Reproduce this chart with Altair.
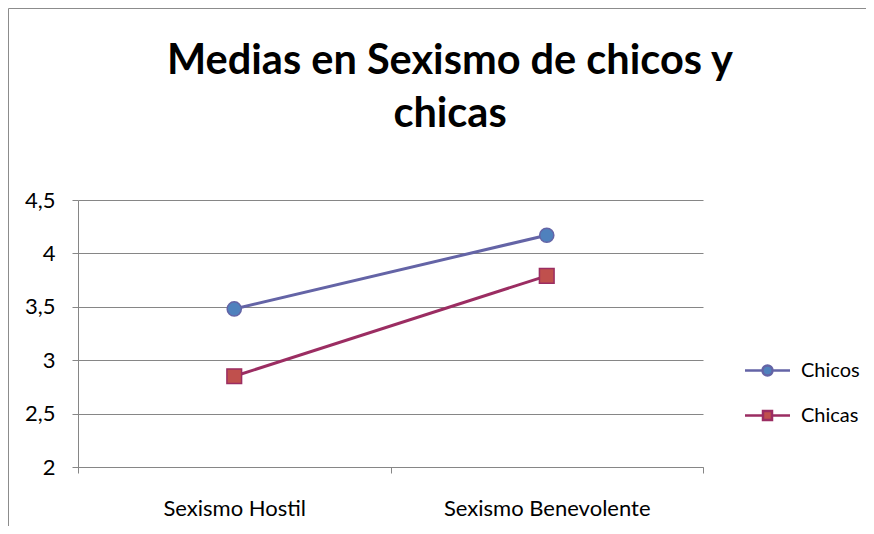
import altair as alt
import pandas as pd

# ---- data ----
categorias = ["Sexismo Hostil", "Sexismo Benevolente"]
series = ["Chicos", "Chicas"]
chicos = [3.48, 4.17]
chicas = [2.85, 3.79]
y_ticks = [2, 2.5, 3, 3.5, 4, 4.5]
titulo = ["Medias en Sexismo de chicos y", "chicas"]

rows = []
for s, vals in zip(series, [chicos, chicas]):
    for c, v in zip(categorias, vals):
        rows.append({"categoria": c, "serie": s, "valor": v})
df = pd.DataFrame(rows)
one = pd.DataFrame({"k": [0]})

# ---- styling ----
W, H = 625, 267
FONT = "Lato"
GRID = "#868686"
line_cols = ["#6464A6", "#9B2D62"]
fill_cols = ["#4F81BD", "#C0504D"]
legend_paths = [
    "M-2.25,0L-0.5,0M0.5,0L2.25,0M0.5,0A0.5,0.5,0,1,1,-0.5,0A0.5,0.5,0,1,1,0.5,0Z",
    "M-2.25,0L-0.45,0M0.45,0L2.25,0M-0.45,-0.45L0.45,-0.45L0.45,0.45L-0.45,0.45Z",
]

leg = alt.Legend(
    orient="none", legendX=678, legendY=159, title=None,
    symbolSize=400, symbolStrokeWidth=2.5, symbolOpacity=1,
    labelFont=FONT, labelFontSize=20, labelColor="#000000",
    labelOffset=22, rowPadding=23, padding=0,
)

x_enc = alt.X(
    "categoria:N", sort=categorias, title=None,
    scale=alt.Scale(type="band", domain=categorias, paddingInner=0, paddingOuter=0),
    axis=alt.Axis(
        labelAngle=0, tickBand="extent", labelFont=FONT, labelFontSize=22,
        labelColor="#000000", labelPadding=25, labelLimit=0, tickSize=6,
        tickColor=GRID, domainColor=GRID, grid=False,
    ),
)
y_enc = alt.Y(
    "valor:Q", title=None,
    scale=alt.Scale(domain=[2, 4.5], nice=False, zero=False),
    axis=alt.Axis(
        values=y_ticks, labelExpr="replace(toString(datum.value), '.', ',')",
        labelFont=FONT, labelFontSize=22, labelColor="#000000",
        labelPadding=17, tickSize=6, tickColor=GRID, domainColor=GRID,
        grid=True, gridColor=GRID, gridWidth=1,
    ),
)
stroke_enc = alt.Stroke("serie:N", scale=alt.Scale(domain=series, range=line_cols), legend=leg)
fill_enc = alt.Fill("serie:N", scale=alt.Scale(domain=series, range=fill_cols), legend=leg)
shape_enc = alt.Shape("serie:N", scale=alt.Scale(domain=series, range=legend_paths), legend=leg)

base = alt.Chart(df)

lines = base.mark_line(strokeWidth=3).encode(x=x_enc, y=y_enc, stroke=stroke_enc)

pts_circle = base.transform_filter(alt.datum.serie == "Chicos").mark_point(
    shape="circle", size=200, filled=True, strokeWidth=1.5, opacity=1
).encode(x=x_enc, y=y_enc, fill=fill_enc, stroke=stroke_enc)

pts_square = base.transform_filter(alt.datum.serie == "Chicas").mark_point(
    shape="square", size=215, filled=True, strokeWidth=1.5, opacity=1
).encode(x=x_enc, y=y_enc, fill=fill_enc, stroke=stroke_enc)

legend_layer = base.mark_point(filled=True).encode(
    x=alt.value(-3000), y=alt.value(-3000),
    fill=fill_enc, stroke=stroke_enc, shape=shape_enc,
)

title_layer = alt.Chart(one).mark_text(
    text=titulo, font=FONT, fontSize=41.5, fontWeight="bold", color="#000000",
    align="center", baseline="alphabetic", lineHeight=53,
).encode(x=alt.value(372), y=alt.value(-126))

border_left = alt.Chart(one).mark_rule(color="#8C8C8C", strokeWidth=1).encode(
    x=alt.value(-69.5), y=alt.value(-191.5), y2=alt.value(330)
)
border_top = alt.Chart(one).mark_rule(color="#8C8C8C", strokeWidth=1).encode(
    x=alt.value(-69.5), x2=alt.value(800), y=alt.value(-191.5)
)

chart = alt.layer(
    border_left, border_top, title_layer, lines, pts_circle, pts_square, legend_layer
).properties(
    width=W, height=H,
    autosize=alt.AutoSizeParams(type="none"),
    padding={"left": 70, "top": 192, "right": 163, "bottom": 59},
    background="#FFFFFF",
).configure_view(stroke=None)

chart.save("out.html", embed_options={"renderer": "svg", "actions": False})
